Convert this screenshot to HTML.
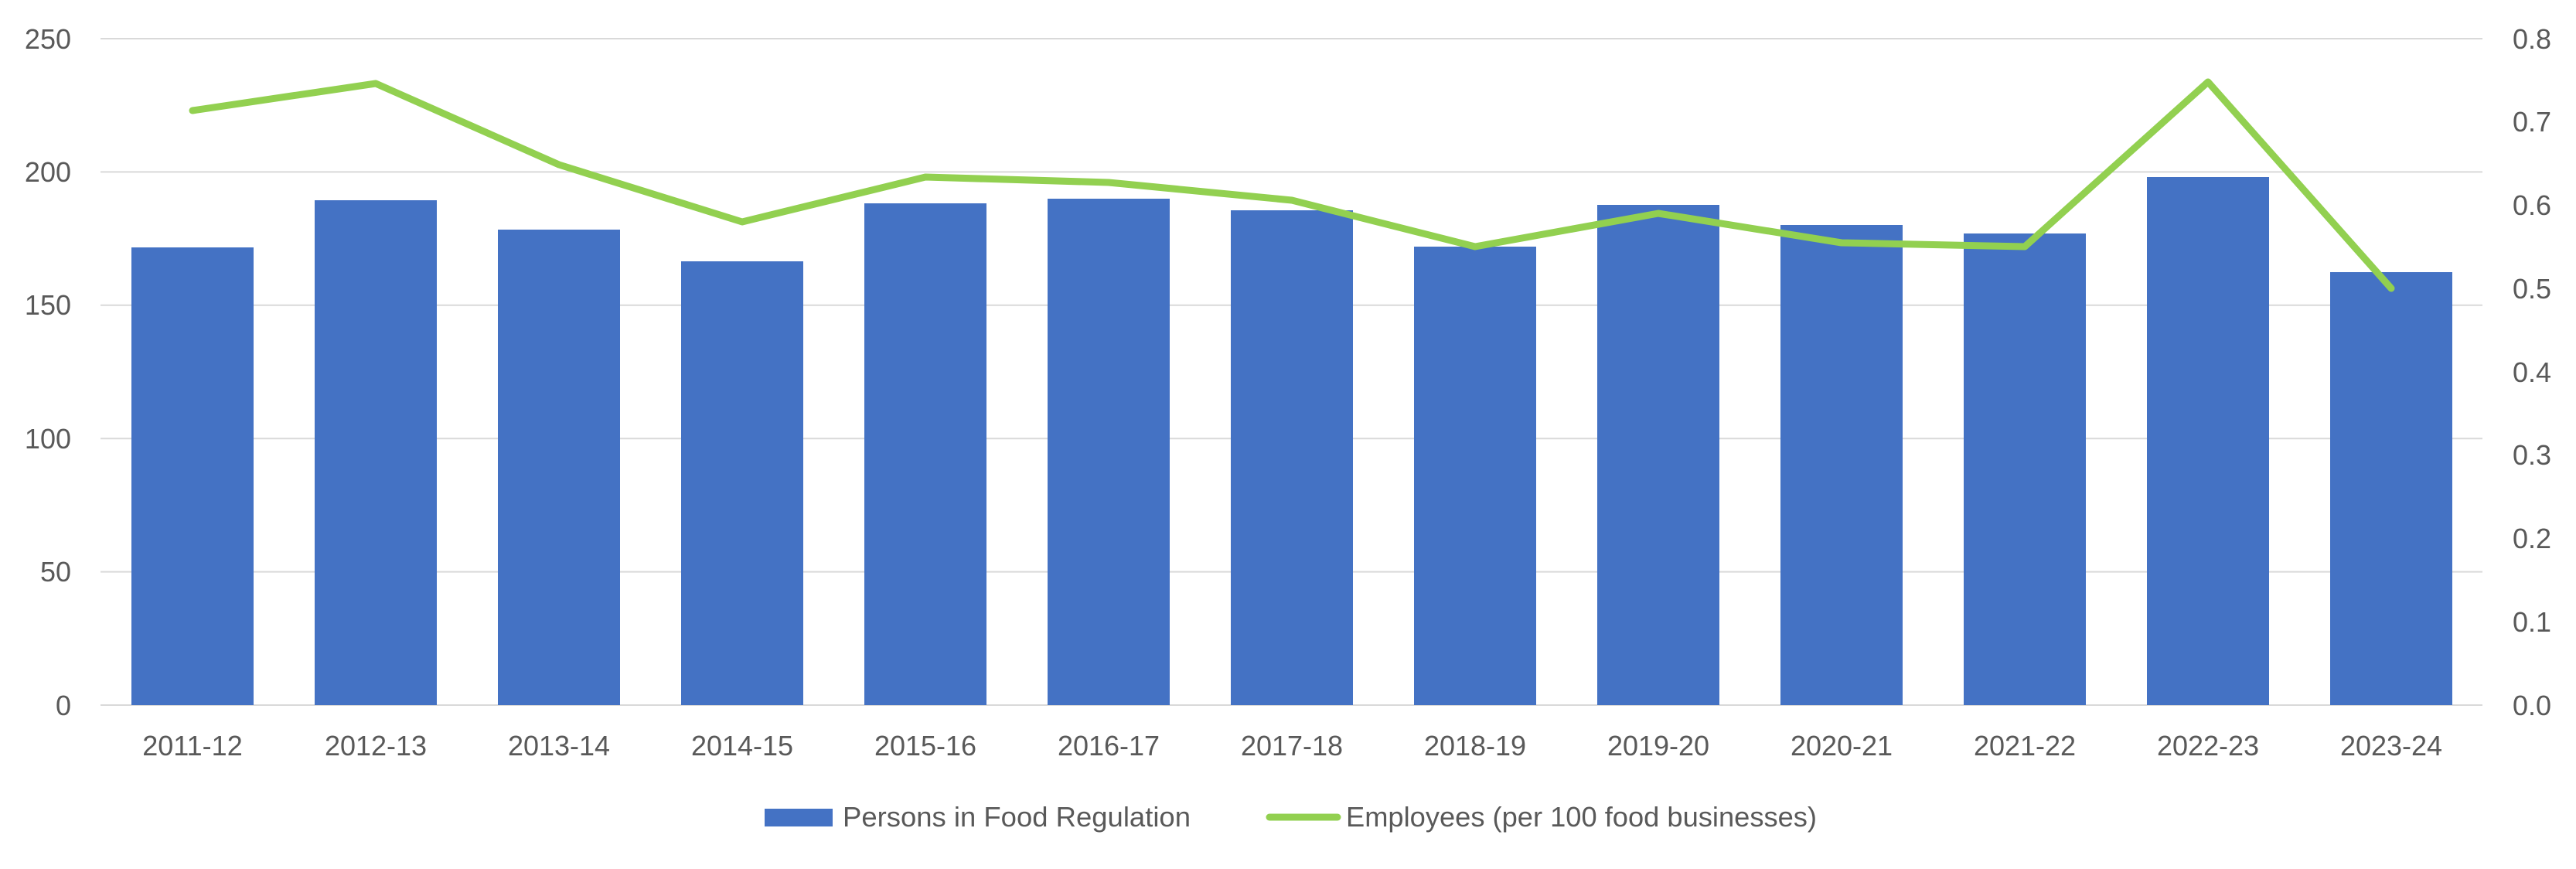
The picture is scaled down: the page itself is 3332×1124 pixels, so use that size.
<!DOCTYPE html>
<html><head><meta charset="utf-8"><style>html,body{margin:0;padding:0;background:#fff}svg{display:block}</style></head>
<body>
<svg width="3332" height="1124" viewBox="0 0 3332 1124" xmlns="http://www.w3.org/2000/svg" font-family="'Liberation Sans Narrow','Liberation Sans',sans-serif" fill="#595959">
<g stroke="#d9d9d9" stroke-width="2">
<line x1="130" x2="3211" y1="50" y2="50"/><line x1="130" x2="3211" y1="222.4" y2="222.4"/><line x1="130" x2="3211" y1="394.8" y2="394.8"/><line x1="130" x2="3211" y1="567.2" y2="567.2"/><line x1="130" x2="3211" y1="739.6" y2="739.6"/><line x1="130" x2="3211" y1="912" y2="912"/>
</g>
<g fill="#4472C4">
<rect x="170" y="320" width="158" height="592"/>
<rect x="407" y="259" width="158" height="653"/>
<rect x="644" y="297" width="158" height="615"/>
<rect x="881" y="338" width="158" height="574"/>
<rect x="1118" y="263" width="158" height="649"/>
<rect x="1355" y="257" width="158" height="655"/>
<rect x="1592" y="272" width="158" height="640"/>
<rect x="1829" y="319" width="158" height="593"/>
<rect x="2066" y="265" width="158" height="647"/>
<rect x="2303" y="291" width="158" height="621"/>
<rect x="2540" y="302" width="158" height="610"/>
<rect x="2777" y="229" width="158" height="683"/>
<rect x="3014" y="352" width="158" height="560"/>
</g>
<polyline fill="none" stroke="#92D050" stroke-width="9" stroke-linecap="round" stroke-linejoin="round" points="249,143 486,108 723,213 960,287 1197,229 1434,236 1671,259 1908,319 2145,276 2382,314 2619,319 2856,106 3093,373"/>
<g font-size="36" text-anchor="end">
<text x="92" y="63">250</text><text x="92" y="235">200</text><text x="92" y="407">150</text><text x="92" y="580">100</text><text x="92" y="752">50</text><text x="92" y="925">0</text>
</g>
<g font-size="36">
<text x="3250" y="63">0.8</text><text x="3250" y="170">0.7</text><text x="3250" y="278">0.6</text><text x="3250" y="386">0.5</text><text x="3250" y="494">0.4</text><text x="3250" y="601">0.3</text><text x="3250" y="709">0.2</text><text x="3250" y="817">0.1</text><text x="3250" y="925">0.0</text>
</g>
<g font-size="36" text-anchor="middle">
<text x="249" y="977">2011-12</text><text x="486" y="977">2012-13</text><text x="723" y="977">2013-14</text><text x="960" y="977">2014-15</text><text x="1197" y="977">2015-16</text><text x="1434" y="977">2016-17</text><text x="1671" y="977">2017-18</text><text x="1908" y="977">2018-19</text><text x="2145" y="977">2019-20</text><text x="2382" y="977">2020-21</text><text x="2619" y="977">2021-22</text><text x="2856" y="977">2022-23</text><text x="3093" y="977">2023-24</text>
</g>
<rect x="989" y="1046" width="88" height="23" fill="#4472C4"/>
<text x="1090" y="1069" font-size="36" textLength="450" lengthAdjust="spacingAndGlyphs">Persons in Food Regulation</text>
<line x1="1642" x2="1730" y1="1057" y2="1057" stroke="#92D050" stroke-width="9" stroke-linecap="round"/>
<text x="1741" y="1069" font-size="36" textLength="609" lengthAdjust="spacingAndGlyphs">Employees (per 100 food businesses)</text>
</svg>
</body></html>
